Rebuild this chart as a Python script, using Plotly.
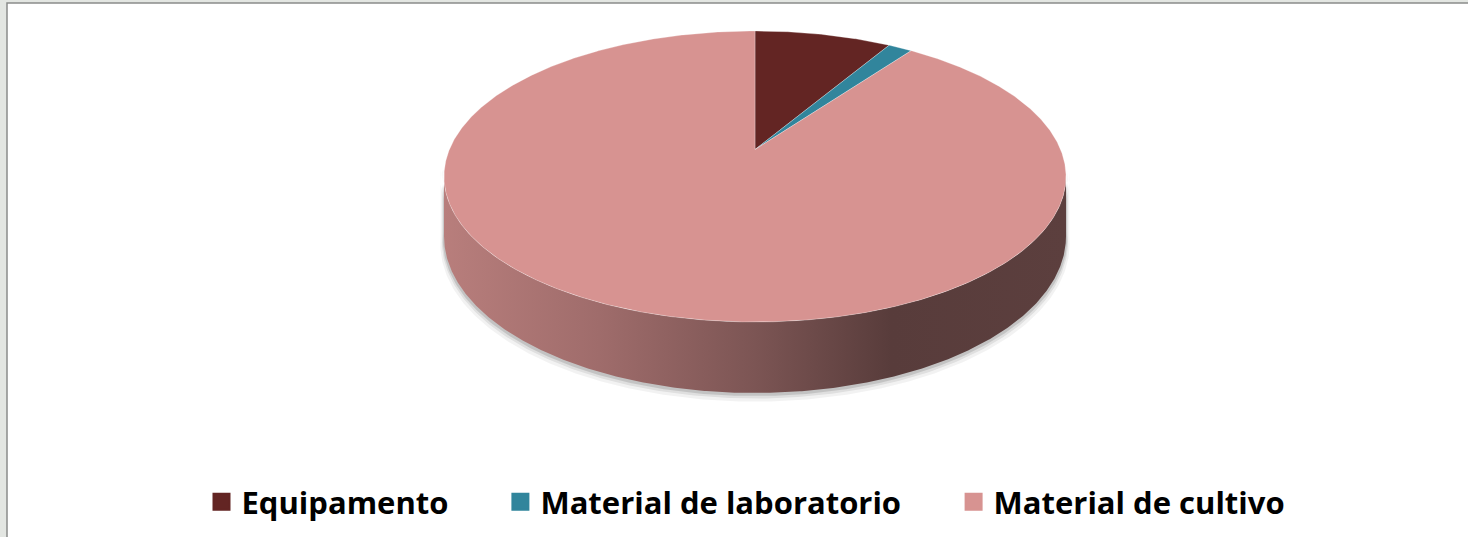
import numpy as np
import plotly.graph_objects as go

# ---------------- data ----------------
categories = ["Equipamento", "Material de laboratorio", "Material de cultivo"]
values = [8.5, 1.5, 90.0]
colors = ["#632523", "#31859C", "#D79391"]

# ---------------- geometry of the 3-D pie (pixel space) ----------------
W, H = 1468, 537
CX, CY = 755.0, 149.5      # projected centre of top face
A, B, P = 305.6, 140.5, 0.1856   # horizontal / vertical radius, perspective
DEPTH = 57.8               # thickness of the pie


def proj(theta, drop=0.0, sx=1.0):
    u = np.sin(theta)
    v = np.cos(theta)
    d = 1 + P * v
    return CX + A * sx * u / d, CY - (B * v - drop) / d


def hex2rgb(h):
    h = h.lstrip("#")
    return [int(h[i:i + 2], 16) for i in (0, 2, 4)]


def shade(h, f):
    r, g, b = hex2rgb(h)
    return "rgb(%d,%d,%d)" % (r * f, g * f, b * f)


total = float(sum(values))
bounds = 2 * np.pi * np.cumsum([0] + values) / total

thR = np.arccos(-P)
thL = 2 * np.pi - thR

fig = go.Figure()

# chart-area background
fig.add_shape(type="rect", xref="x", yref="y", x0=7, y0=3, x1=1475, y1=545,
              fillcolor="white", line=dict(color="#8a8c8a", width=1.5), layer="below")

# soft shadow under the side wall
for off, sc, alpha in [(7, 1.012, 0.05), (4.5, 1.007, 0.08), (2.5, 1.004, 0.12)]:
    t = np.linspace(thR - 0.05, thL + 0.05, 240)
    xt, yt = proj(t, 0, sc)
    xb, yb = proj(t[::-1], DEPTH + off, sc)
    fig.add_trace(go.Scatter(x=np.r_[xt, xb], y=np.r_[yt, yb], mode="lines",
                             fill="toself", fillcolor="rgba(0,0,0,%.2f)" % alpha,
                             line=dict(width=0), hoverinfo="skip", showlegend=False))

# side wall of each slice (only front part is visible)
xl, _ = proj(thL)
xr, _ = proj(thR)
factors = [(0.0, 0.86), (0.25, 0.74), (0.5, 0.58), (0.72, 0.41), (1.0, 0.43)]
for i, c in enumerate(colors):
    a0, a1 = max(bounds[i], thR), min(bounds[i + 1], thL)
    if a1 <= a0:
        continue
    t = np.linspace(a0, a1, max(3, int(200 * (a1 - a0))))
    xt, yt = proj(t)
    xb, yb = proj(t[::-1], DEPTH)
    fig.add_trace(go.Scatter(
        x=np.r_[xt, xb], y=np.r_[yt, yb], mode="lines", fill="toself",
        fillgradient=dict(type="horizontal", start=float(xl), stop=float(xr),
                          colorscale=[[p, shade(c, f)] for p, f in factors]),
        line=dict(width=0), hoverinfo="skip", showlegend=False))

# top face slices
for i, c in enumerate(colors):
    a0, a1 = bounds[i], bounds[i + 1]
    t = np.linspace(a0, a1, max(3, int(200 * (a1 - a0))))
    xt, yt = proj(t)
    fig.add_trace(go.Scatter(
        x=np.r_[CX, xt, CX], y=np.r_[CY, yt, CY], mode="lines", fill="toself",
        fillcolor=c, line=dict(color="rgba(255,255,255,0.35)", width=0.8),
        hoverinfo="skip", showlegend=False))

# legend entries (three independent legends to match spacing)
legend_ids = ["legend", "legend2", "legend3"]
for cat, c, lid in zip(categories, colors, legend_ids):
    fig.add_trace(go.Scatter(x=[None], y=[None], mode="markers", name=cat,
                             marker=dict(symbol="square", size=16, color=c,
                                         line=dict(color=c, width=2)),
                             legend=lid, hoverinfo="skip"))

leg_font = dict(family="Open Sans", size=31, weight="bold", color="black")
leg_x = [201.5, 500.4, 953.6]
leg_y = 1 - 502 / H
legcfg = {}
for lid, lx in zip(legend_ids, leg_x):
    legcfg[lid] = dict(x=lx / W, y=leg_y, xanchor="left", yanchor="middle",
                       orientation="h", font=leg_font, bgcolor="rgba(0,0,0,0)",
                       borderwidth=0)

fig.update_layout(
    width=W, height=H, autosize=False,
    margin=dict(l=0, r=0, t=0, b=0),
    paper_bgcolor="#e3e6e2", plot_bgcolor="#e3e6e2",
    xaxis=dict(range=[0, W], visible=False, fixedrange=True),
    yaxis=dict(range=[H, 0], visible=False, fixedrange=True),
    **legcfg,
)

fig.write_html("out.html", config={"displayModeBar": False},
               post_script="document.body.style.margin='0';document.body.style.overflow='hidden';")
